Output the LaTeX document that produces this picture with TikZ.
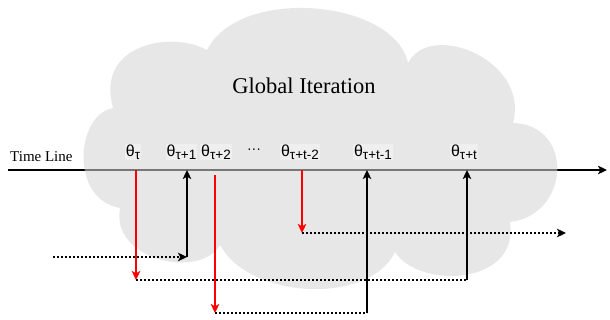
\documentclass[tikz,border=0pt]{standalone}
\usepackage{fontspec}
\setmainfont{Liberation Serif}
\newfontfamily\labelsans{Liberation Sans}
\usetikzlibrary{arrows.meta}

\definecolor{cloudgray}{RGB}{213,213,213}
\definecolor{flowred}{RGB}{255,0,0}

% parameter label: theta with a lowered index
\newcommand\thetalab[1]{\labelsans\fontsize{16}{16}\selectfont θ\raisebox{-0.35ex}{\fontsize{13.5}{13.5}\selectfont #1}}

\tikzset{
  tip/.style={-{Stealth[length=9pt,width=8.5pt,inset=2.2pt]}},
  timeline/.style={line width=1.8pt, black, tip},
  pullarrow/.style={line width=1.5pt, flowred, tip},
  pusharrow/.style={line width=1.5pt, black, tip},
  waitline/.style={line width=1.5pt, black, dash pattern=on 2pt off 2pt},
  waitarrow/.style={waitline, tip},
  param/.style={inner sep=1pt, fill=white, fill opacity=0.35, text opacity=1},
}

\begin{document}
\begin{tikzpicture}[x=1pt,y=-1pt]
\useasboundingbox (0,0) rectangle (610,320);

% time axis
\coordinate (tl0) at (8,170);
\coordinate (tl1) at (607,170);
\draw[timeline] (tl0) -- (tl1);
\node[anchor=base west, inner sep=0pt, font=\fontsize{15}{15}\selectfont] (tltext) at (10,161.5) {Time Line};

% global iteration cloud
\fill[cloudgray, fill opacity=0.56]
  (113,108) .. controls (75,115) and (70,200) .. (120,208)
  .. controls (110,260) and (200,280) .. (220,245)
  .. controls (250,300) and (370,305) .. (395,252)
  .. controls (420,290) and (520,285) .. (510,222)
  .. controls (570,215) and (575,125) .. (513,123)
  .. controls (530,60) and (430,20) .. (408,63)
  .. controls (395,0) and (240,-15) .. (207,50)
  .. controls (170,30) and (95,45) .. (113,108) -- cycle;
\node[font=\fontsize{22.5}{22.5}\selectfont] (gi) at (304,86) {Global Iteration};

% parameter versions along the axis
\node[param] (p0) at (133,152) {\thetalab{τ}};
\node[param] (p1) at (181.5,152) {\thetalab{τ+1}};
\node[param] (p2) at (216,152) {\thetalab{τ+2}};
\node[font=\labelsans\fontsize{14}{14}\selectfont] (dots) at (254,151) {···};
\node[param] (p3) at (300,152) {\thetalab{τ+t-2}};
\node[param] (p4) at (373,152) {\thetalab{τ+t-1}};
\node[param] (p5) at (464,152) {\thetalab{τ+t}};

% corner points of the worker paths
\coordinate (a0) at (53,257);
\coordinate (a1) at (187,257);
\coordinate (a2) at (187,170);

\coordinate (b0) at (136,170);
\coordinate (b1) at (136,280);
\coordinate (b2) at (467,280);
\coordinate (b3) at (467,170);

\coordinate (c0) at (215,175);
\coordinate (c1) at (215,313);
\coordinate (c2) at (367,313);
\coordinate (c3) at (367,170);

\coordinate (d0) at (302,170);
\coordinate (d1) at (302,233);
\coordinate (d2) at (566,233);

% worker arriving with an update
\draw[waitarrow] (a0) -- (a1);
\draw[pusharrow] (a1) -- (a2);

% worker reading theta_tau, pushing to theta_tau+t
\draw[pullarrow] (b0) -- (b1);
\draw[waitline] (b1) -- (b2);
\draw[pusharrow] (b2) -- (b3);

% worker reading theta_tau+2, pushing to theta_tau+t-1
\draw[pullarrow] (c0) -- (c1);
\draw[waitline] (c1) -- (c2);
\draw[pusharrow] (c2) -- (c3);

% worker reading theta_tau+t-2, still running
\draw[pullarrow] (d0) -- (d1);
\draw[waitarrow] (d1) -- (d2);
\end{tikzpicture}
\end{document}
